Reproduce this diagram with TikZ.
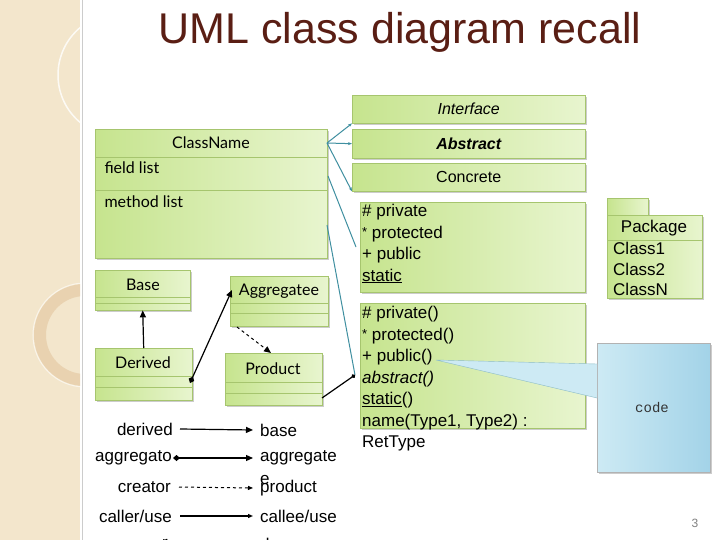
\documentclass[tikz,border=0pt]{standalone}
\usepackage{fontspec}
\setmainfont{Liberation Sans}
\newfontfamily\gill{Lato}
\newfontfamily\mono{Liberation Mono}
\usetikzlibrary{arrows.meta,shadows}
\definecolor{gA}{HTML}{C6E48E}
\definecolor{gB}{HTML}{E8F5CF}
\definecolor{gE}{HTML}{A6C56E}
\definecolor{teal}{HTML}{3F8FA0}
\definecolor{brn}{HTML}{5A1E14}
\definecolor{bA}{HTML}{CDEAF4}
\definecolor{bB}{HTML}{A3D3E8}
\definecolor{side}{HTML}{F3E6CC}
\newcommand{\stargl}{\raisebox{2pt}{\fontsize{13}{13}\selectfont *}}
\tikzset{
 cls/.style={draw=gE,left color=gA,right color=gB,drop shadow={shadow xshift=1.5pt,shadow yshift=-1.5pt,opacity=.4}},
 row/.style={draw=gE},
 tl/.style={teal,line width=1pt},
 lab/.style={font=\fontsize{17}{19}\selectfont,inner sep=0pt},
 ar/.style={-{Triangle[length=7pt,width=6pt]},line width=1.2pt},
}
\begin{document}
\begin{tikzpicture}[x=1pt,y=-1pt]
\useasboundingbox (0,0) rectangle (720,540);
\fill[white] (0,0) rectangle (720,540);
% sidebar
\fill[side] (0,0) rectangle (80,540);
\begin{scope}
\clip (0,0) rectangle (80,540);
\draw[white,line width=1.5pt,opacity=.8] (120,75) circle (62);
\draw[brown!20!side,line width=12pt] (85,335) circle (45);
\draw[white,line width=1pt,opacity=.6] (85,335) circle (52);
\end{scope}
\draw[gray!40] (82,0) -- (82,540);
% title
\node[text=brn,font=\fontsize{43}{47}\selectfont] (title) at (400,32) {UML class diagram recall};
% ClassName
\node[cls,minimum width=232,minimum height=129,anchor=north west] (cn) at (95,129) {};
\draw[row] (95,157) -- (327,157) (95,190) -- (327,190);
\node[font=\gill\fontsize{16}{18}\selectfont] (cnn) at (211,143) {ClassName};
\node[font=\gill\fontsize{16}{18}\selectfont,anchor=west] (fl) at (101,168) {field list};
\node[font=\gill\fontsize{16}{18}\selectfont,anchor=west] (ml) at (101,202) {method list};
% kinds
\node[cls,minimum width=233,minimum height=28,anchor=north west,font=\itshape\fontsize{16}{18}\selectfont] (if) at (352,95) {Interface};
\node[cls,minimum width=233,minimum height=29,anchor=north west,font=\bfseries\itshape\fontsize{16}{18}\selectfont] (ab) at (352,129) {Abstract};
\node[cls,minimum width=233,minimum height=28,anchor=north west,font=\fontsize{16}{18}\selectfont] (co) at (352,163) {Concrete};
% fields
\node[cls,minimum width=225,minimum height=90,anchor=north west] (fb) at (360,202) {};
\node[anchor=north west,align=left,font=\fontsize{17}{21.5}\selectfont,inner sep=0pt] (ft) at (362,204) {\# private\\\stargl{} protected\\+ public\\\underline{static}};
% methods
\node[cls,minimum width=225,minimum height=125,anchor=north west] (mb) at (360,303) {};
% callout + code
\shade[left color=bA,right color=bB,drop shadow={shadow xshift=1.5pt,shadow yshift=-1.5pt,opacity=.4}] (597,343) rectangle (710,472);
\draw[gray!60] (597,343) rectangle (710,472);
\fill[bA] (436,360) -- (597,364) -- (597,398) -- cycle;
\draw[teal!60] (436,360) -- (597,364) (436,360) -- (597,398);
\node[font=\mono\fontsize{14}{16}\selectfont,text=black!80] (code) at (652,408) {code};
\node[anchor=north west,align=left,font=\fontsize{17}{21.5}\selectfont,inner sep=0pt] (mt) at (362,306) {\# private()\\\stargl{} protected()\\+ public()\\\textit{abstract()}\\\underline{static}()\\name(Type1, Type2) :\\RetType};
% package
\node[cls,minimum width=41,minimum height=17,anchor=north west] (ptab) at (607,198) {};
\node[cls,minimum width=95,minimum height=83,anchor=north west] (pk) at (607,215) {};
\draw[row] (607,240) -- (702,240);
\node[font=\fontsize{17}{19}\selectfont] (pkn) at (654,228) {Package};
\node[anchor=north west,align=left,font=\fontsize{17}{20.5}\selectfont,inner sep=0pt] (pkc) at (613,242) {Class1\\Class2\\ClassN};
% small classes
\node[cls,minimum width=95,minimum height=40,anchor=north west] (base) at (95,270) {};
\draw[row] (95,297) -- (190,297) (95,303) -- (190,303);
\node[font=\gill\fontsize{16}{18}\selectfont] (basen) at (143,285) {Base};
\node[cls,minimum width=97,minimum height=52,anchor=north west] (der) at (95,348) {};
\draw[row] (95,376) -- (192,376) (95,387) -- (192,387);
\node[font=\gill\fontsize{16}{18}\selectfont] (dern) at (143,363) {Derived};
\node[cls,minimum width=98,minimum height=50,anchor=north west] (agg) at (230,276) {};
\draw[row] (230,303) -- (328,303) (230,313) -- (328,313);
\node[font=\gill\fontsize{16}{18}\selectfont] (aggn) at (279,291) {Aggregatee};
\node[cls,minimum width=97,minimum height=52,anchor=north west] (prod) at (225,353) {};
\draw[row] (225,382) -- (322,382) (225,393) -- (322,393);
\node[font=\gill\fontsize{16}{18}\selectfont] (prodn) at (273,369) {Product};
% connectors
\coordinate (cnr) at (327,143);
\draw[tl,-{Stealth[length=4pt]}] (cnr) -- (if.south west);
\draw[tl,-{Stealth[length=4pt]}] (cnr) -- (ab.west);
\draw[tl,-{Stealth[length=4pt]}] (cnr) -- (co.south west);
\coordinate (flr) at (328,176);
\coordinate (fbl) at (356,247);
\draw[tl] (flr) -- (fbl);
\coordinate (mlr) at (327,225);
\coordinate (mbl) at (355,375);
\draw[tl] (mlr) -- (mbl);
\draw[ar] (der.north) -- (base.south);
\draw[ar,{Diamond[length=7pt,width=6pt]}-{Triangle[length=7pt,width=6pt]}] (190,383) -- (232,290);
\draw[ar,dashed,line width=1pt] (237,327) -- (271,353);
\draw[line width=1.2pt,{Circle[length=4pt]}-] (mbl) -- (322,398);
% legend
\node[lab,anchor=east] (l1) at (173,429) {derived};
\node[lab,anchor=west] (r1) at (260,430) {base};
\draw[ar] ([xshift=7pt]l1.east) -- ([xshift=-7pt]r1.west);
\node[lab,anchor=east] (l2) at (172,458) {aggregato};
\node[lab,anchor=west] (r2) at (260,458) {aggregate};
\node[lab,anchor=west] (r2b) at (260,480) {e};
\draw[ar,{Diamond[length=7pt,width=6pt]}-{Triangle[length=7pt,width=6pt]}] ([xshift=1pt]l2.east) -- ([xshift=-7pt]r2.west);
\node[lab,anchor=east] (l3) at (171,487) {creator};
\node[lab,anchor=west] (r3) at (260,488) {product};
\draw[dashed,line width=1pt,-{Triangle[length=5pt,width=4pt]}] ([xshift=8pt]l3.east) -- ([xshift=-7pt]r3.west);
\node[lab,anchor=east] (l4) at (172,516) {caller/use};
\node[lab] (l4b) at (165,544) {r};
\node[lab,anchor=west] (r4) at (260,516) {callee/use};
\node[lab,anchor=west] (r4b) at (260,544) {d};
\draw[ar,-{Triangle[length=5pt,width=4pt]}] ([xshift=8pt]l4.east) -- ([xshift=-7pt]r4.west);
\node[text=gray,font=\fontsize{12}{14}\selectfont] (pg) at (695,523) {3};
\end{tikzpicture}
\end{document}
